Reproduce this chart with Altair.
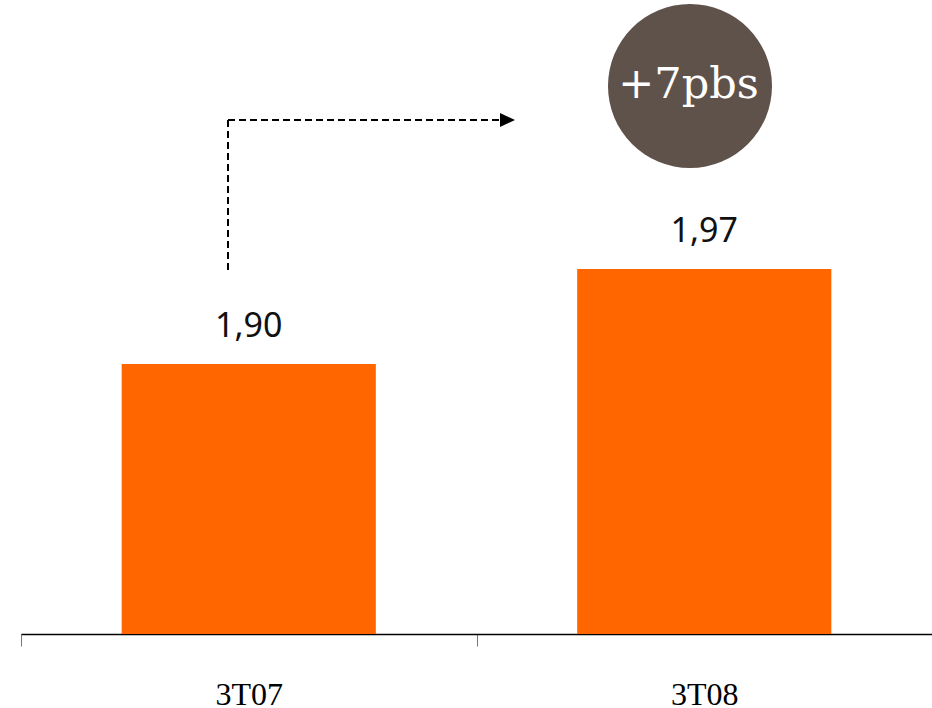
import altair as alt
import pandas as pd

# ---- data ----
categories = ["3T07", "3T08"]
values = [1.90, 1.97]
value_labels = ["1,90", "1,97"]
badge_text = ["+7pbs"]

df = pd.DataFrame({"periodo": categories, "valor": values, "etiqueta": value_labels})
one = pd.DataFrame({"t": badge_text})

W, H = 911, 634
YMIN = 1.701

x = alt.X(
    "periodo:N",
    sort=categories,
    title=None,
    scale=alt.Scale(paddingInner=0, paddingOuter=0),
    axis=alt.Axis(
        tickBand="extent",
        domainColor="#000000",
        domainWidth=1.5,
        tickColor="#777777",
        tickSize=12,
        tickWidth=1,
        labelFont="Liberation Serif",
        labelFontSize=32,
        labelColor="#000000",
        labelPadding=58,
        labelBaseline="alphabetic",
        labelAngle=0,
    ),
)
y = alt.Y("valor:Q", scale=alt.Scale(domain=[YMIN, 2.1682], zero=False, nice=False), axis=None)

bars = alt.Chart(df).mark_bar(color="#ff6600", width=alt.RelativeBandSize(0.558)).encode(
    x=x, y=y, y2=alt.datum(YMIN)
)

labels = alt.Chart(df).mark_text(
    font="Noto Sans", fontSize=34, dy=-27, baseline="alphabetic", color="#111111"
).encode(x=x, y=y, text="etiqueta:N")

dash = [7, 4]
vline = alt.Chart(one).mark_rule(strokeDash=dash, strokeWidth=2, color="#000000").encode(
    x=alt.value(207), y=alt.value(120), y2=alt.value(270)
)
hline = alt.Chart(one).mark_rule(strokeDash=dash, strokeWidth=2, color="#000000").encode(
    x=alt.value(207), x2=alt.value(481), y=alt.value(120)
)
arrow = alt.Chart(one).mark_point(
    shape="M-1,-0.93L1,0L-1,0.93Z", filled=True, size=225, color="#000000", opacity=1
).encode(x=alt.value(486.5), y=alt.value(120))

circle = alt.Chart(one).mark_circle(color="#5f524b", opacity=1, size=26896).encode(
    x=alt.value(669), y=alt.value(86)
)
badge = alt.Chart(one).mark_text(
    font="DejaVu Serif", fontSize=43, color="#ffffff", baseline="alphabetic"
).encode(x=alt.value(667.5), y=alt.value(98), text="t:N")

chart = (
    alt.layer(bars, labels, vline, hline, arrow, circle, badge)
    .properties(
        width=W,
        height=H,
        autosize=alt.AutoSizeParams(type="none"),
        padding={"left": 21, "top": 0, "right": 0, "bottom": 74},
        background="#ffffff",
    )
    .configure_view(stroke=None)
)

chart.save("out.html", embed_options={"renderer": "svg", "actions": False})
